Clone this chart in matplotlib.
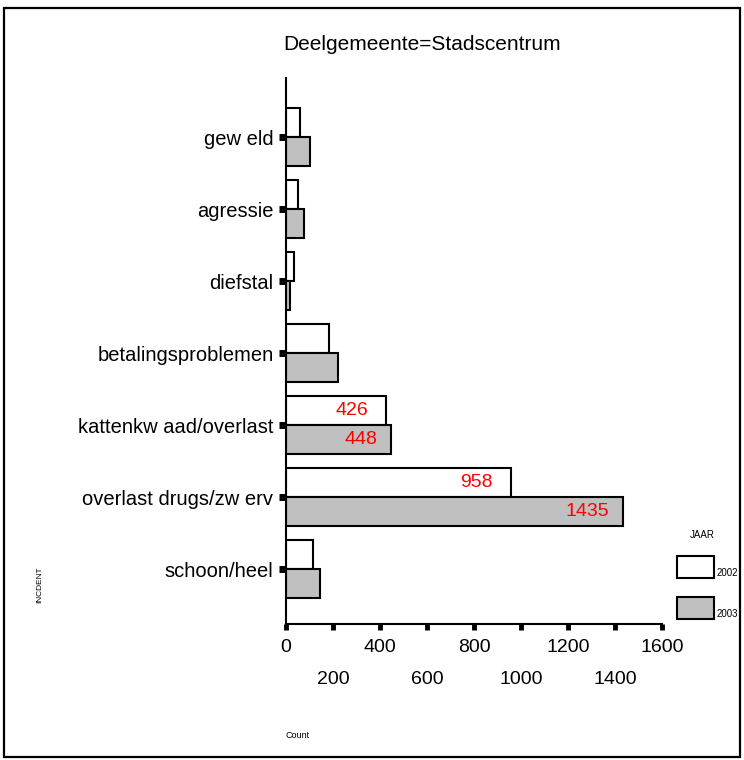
import numpy as np
import matplotlib
matplotlib.use("Agg")
import matplotlib.pyplot as plt
from matplotlib.patches import Rectangle
from matplotlib.ticker import FixedLocator

plt.rcParams["font.family"] = ["Liberation Sans", "DejaVu Sans"]

# data
categories = ["gew eld", "agressie", "diefstal", "betalingsproblemen",
              "kattenkw aad/overlast", "overlast drugs/zw erv", "schoon/heel"]
count_2002 = [60, 52, 35, 184, 426, 958, 117]
count_2003 = [102, 77, 17, 220, 448, 1435, 145]
labelled = [4, 5]  # categories that carry red value labels
years = ["2002", "2003"]
colors = ["white", "#c0c0c0"]

W, H = 744, 760
fig = plt.figure(figsize=(W / 100, H / 100), dpi=100)

# outer frame
fig.patches.append(Rectangle((4 / W, 1 - 757 / H), 736 / W, 749 / H,
                             transform=fig.transFigure, fill=False,
                             edgecolor="black", linewidth=1.6))

ax = fig.add_axes([286 / W, 1 - 624 / H, 376 / W, 546 / H])

pos = np.arange(len(categories))
h = 0.40
ax.barh(pos - h, count_2002, height=h, align="edge", color=colors[0],
        edgecolor="black", linewidth=1.5)
ax.barh(pos, count_2003, height=h, align="edge", color=colors[1],
        edgecolor="black", linewidth=1.5)

for i in labelled:
    ax.annotate(str(count_2002[i]), (count_2002[i], pos[i] - h / 2),
                xytext=(-13, 0), textcoords="offset points",
                ha="right", va="center", color="red", fontsize=14)
    ax.annotate(str(count_2003[i]), (count_2003[i], pos[i] + h / 2),
                xytext=(-10, 0), textcoords="offset points",
                ha="right", va="center", color="red", fontsize=14)

ax.set_xlim(0, 1600)
ax.set_ylim(len(categories) - 1 + 0.76, -0.82)
ax.set_yticks(pos)
ax.set_yticklabels(categories, fontsize=14.5)

ax.xaxis.set_major_locator(FixedLocator([0, 400, 800, 1200, 1600]))
ax.xaxis.set_minor_locator(FixedLocator([200, 600, 1000, 1400]))
ax.xaxis.set_minor_formatter(plt.FuncFormatter(lambda v, p: "%d" % v))
ax.tick_params(axis="x", which="both", direction="out", length=4, width=3.5,
               labelsize=14)
ax.tick_params(axis="x", which="major", pad=7)
ax.tick_params(axis="x", which="minor", pad=30)
ax.tick_params(axis="y", direction="out", length=5, width=5, pad=4)

for s in ["top", "right"]:
    ax.spines[s].set_visible(False)
for s in ["left", "bottom"]:
    ax.spines[s].set_linewidth(1.5)

fig.text(422 / W, 1 - 45 / H, "Deelgemeente=Stadscentrum", ha="center",
         va="center", fontsize=15)
fig.text(40 / W, 1 - 585 / H, "INCDENT", rotation=90, ha="center",
         va="center", fontsize=6)
fig.text(298 / W, 1 - 735 / H, "Count", ha="center", va="center", fontsize=6.5)

# legend
fig.text(702 / W, 1 - 535 / H, "JAAR", ha="center", va="center", fontsize=7)
for k, (yr, col) in enumerate(zip(years, colors)):
    top = 556 + k * 41
    fig.patches.append(Rectangle((677 / W, 1 - (top + 22) / H), 37 / W, 22 / H,
                                 transform=fig.transFigure, facecolor=col,
                                 edgecolor="black", linewidth=1.5))
    fig.text(717 / W, 1 - (top + 22) / H, yr, ha="left", va="bottom",
             fontsize=7)

fig.savefig("out.png", dpi=100)
